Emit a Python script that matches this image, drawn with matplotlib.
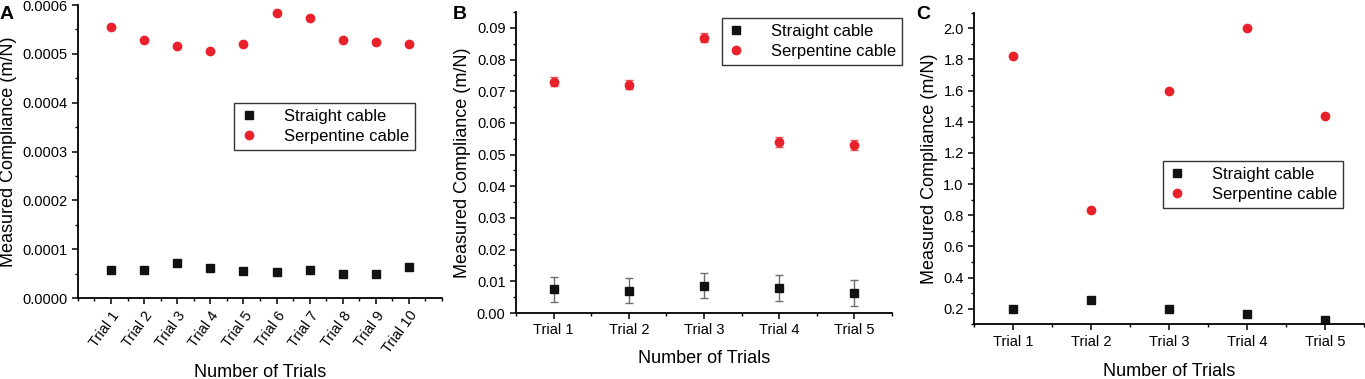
import numpy as np
import matplotlib
matplotlib.use('Agg')
import matplotlib.pyplot as plt
import matplotlib.ticker as ticker

plt.rcParams.update({
    'font.family': ['Liberation Sans', 'DejaVu Sans'],
    'font.size': 10,
    'axes.linewidth': 1.3,
    'xtick.direction': 'out',
    'ytick.direction': 'out',
    'xtick.major.size': 4,
    'ytick.major.size': 4,
    'xtick.minor.size': 2.5,
    'ytick.minor.size': 2.5,
    'xtick.major.width': 1.1,
    'ytick.major.width': 1.1,
    'xtick.minor.width': 1.0,
    'ytick.minor.width': 1.0,
})

RED = '#e8212b'
BLACK = '#111111'

# Panel A: 10 trials
trials_a = ['Trial 1', 'Trial 2', 'Trial 3', 'Trial 4', 'Trial 5',
            'Trial 6', 'Trial 7', 'Trial 8', 'Trial 9', 'Trial 10']
straight_a = [5.8e-5, 5.8e-5, 7.2e-5, 6.2e-5, 5.5e-5, 5.35e-5, 5.8e-5, 5.0e-5, 4.9e-5, 6.3e-5]
serp_a = [0.000555, 0.000529, 0.000516, 0.000506, 0.000520,
          0.000583, 0.000573, 0.000529, 0.000525, 0.000520]

# Panel B: 5 trials with error bars
trials_b = ['Trial 1', 'Trial 2', 'Trial 3', 'Trial 4', 'Trial 5']
straight_b = [0.0075, 0.0071, 0.0086, 0.0079, 0.0063]
straight_b_err = [0.0040, 0.0040, 0.0039, 0.0040, 0.0042]
serp_b = [0.0730, 0.0720, 0.0869, 0.0540, 0.0530]
serp_b_err = [0.0015, 0.0014, 0.0015, 0.0015, 0.0015]

# Panel C: 5 trials
trials_c = ['Trial 1', 'Trial 2', 'Trial 3', 'Trial 4', 'Trial 5']
straight_c = [0.20, 0.253, 0.20, 0.168, 0.128]
serp_c = [1.82, 0.834, 1.60, 2.00, 1.44]

fig = plt.figure(figsize=(13.65, 3.79), dpi=100)

ax_a = fig.add_axes([0.0571, 0.2137, 0.2667, 0.7731])
ax_b = fig.add_axes([0.3780, 0.1741, 0.2755, 0.7942])
ax_c = fig.add_axes([0.7136, 0.1443, 0.2857, 0.8223])


def _style(ax):
    ax.spines['top'].set_visible(False)
    ax.spines['right'].set_visible(False)
    ax.tick_params(which='both', labelsize=10.5)
    ax.set_ylabel('Measured Compliance (m/N)', fontsize=13, labelpad=4)
    ax.set_xlabel('Number of Trials', fontsize=13)


def _legend(ax, loc, anchor, handles=None):
    kw = dict(loc=loc, bbox_to_anchor=anchor, fontsize=12, frameon=True,
              fancybox=False, edgecolor='black', handlelength=1.0,
              handletextpad=1.6, borderpad=0.35, labelspacing=0.3,
              borderaxespad=0)
    if handles is not None:
        leg = ax.legend(handles=handles, **kw)
    else:
        leg = ax.legend(**kw)
    leg.get_frame().set_linewidth(1.0)
    return leg


# ── A ──
x = np.arange(1, len(trials_a) + 1)
ax_a.plot(x, straight_a, 's', color=BLACK, markersize=5.2, label='Straight cable')
ax_a.plot(x, serp_a, 'o', color=RED, markersize=6, label='Serpentine cable')
ax_a.set_xlim(0, 11)
ax_a.set_ylim(0, 0.0006)
ax_a.set_xticks(x)
ax_a.set_xticklabels(trials_a, rotation=54, ha='right', rotation_mode='anchor')
ax_a.xaxis.set_minor_locator(ticker.MultipleLocator(0.5))
ax_a.yaxis.set_major_locator(ticker.MultipleLocator(0.0001))
ax_a.yaxis.set_minor_locator(ticker.MultipleLocator(0.00005))
ax_a.yaxis.set_major_formatter(ticker.FormatStrFormatter('%.4f'))
_style(ax_a)
ax_a.xaxis.labelpad = 6
_legend(ax_a, 'upper left', (0.43, 0.666))

# ── B ──
x = np.arange(1, len(trials_b) + 1)
ax_b.errorbar(x, straight_b, yerr=straight_b_err, fmt='none',
              ecolor='#6e6e6e', elinewidth=1.0, capsize=3, capthick=1.0)
ax_b.errorbar(x, serp_b, yerr=serp_b_err, fmt='none',
              ecolor='#e8555c', elinewidth=1.0, capsize=3, capthick=1.0)
h1, = ax_b.plot(x, straight_b, 's', color=BLACK, markersize=5.2, label='Straight cable')
h2, = ax_b.plot(x, serp_b, 'o', color=RED, markersize=6, label='Serpentine cable')
ax_b.set_xlim(0.5, 5.5)
ax_b.set_ylim(0, 0.095)
ax_b.set_xticks(x)
ax_b.set_xticklabels(trials_b)
ax_b.xaxis.set_minor_locator(ticker.MultipleLocator(0.5))
ax_b.yaxis.set_major_locator(ticker.MultipleLocator(0.01))
ax_b.yaxis.set_minor_locator(ticker.MultipleLocator(0.005))
ax_b.yaxis.set_major_formatter(ticker.FormatStrFormatter('%.2f'))
_style(ax_b)
ax_b.xaxis.labelpad = 9
_legend(ax_b, 'upper left', (0.548, 0.979), handles=[h1, h2])

# ── C ──
x = np.arange(1, len(trials_c) + 1)
ax_c.plot(x, straight_c, 's', color=BLACK, markersize=5.2, label='Straight cable')
ax_c.plot(x, serp_c, 'o', color=RED, markersize=6, label='Serpentine cable')
ax_c.set_xlim(0.5, 5.5)
ax_c.set_ylim(0.1, 2.1)
ax_c.set_xticks(x)
ax_c.set_xticklabels(trials_c)
ax_c.xaxis.set_minor_locator(ticker.MultipleLocator(0.5))
ax_c.yaxis.set_major_locator(ticker.MultipleLocator(0.2))
ax_c.yaxis.set_minor_locator(ticker.MultipleLocator(0.1))
ax_c.yaxis.set_major_formatter(ticker.FormatStrFormatter('%.1f'))
_style(ax_c)
ax_c.xaxis.labelpad = 10
_legend(ax_c, 'upper left', (0.485, 0.524))

# Panel letters
fig.text(0.0, 0.985, 'A', fontsize=14, fontweight='bold', va='top', ha='left')
fig.text(0.3315, 0.985, 'B', fontsize=14, fontweight='bold', va='top', ha='left')
fig.text(0.6715, 0.985, 'C', fontsize=14, fontweight='bold', va='top', ha='left')

fig.savefig('out.png', dpi=100)
